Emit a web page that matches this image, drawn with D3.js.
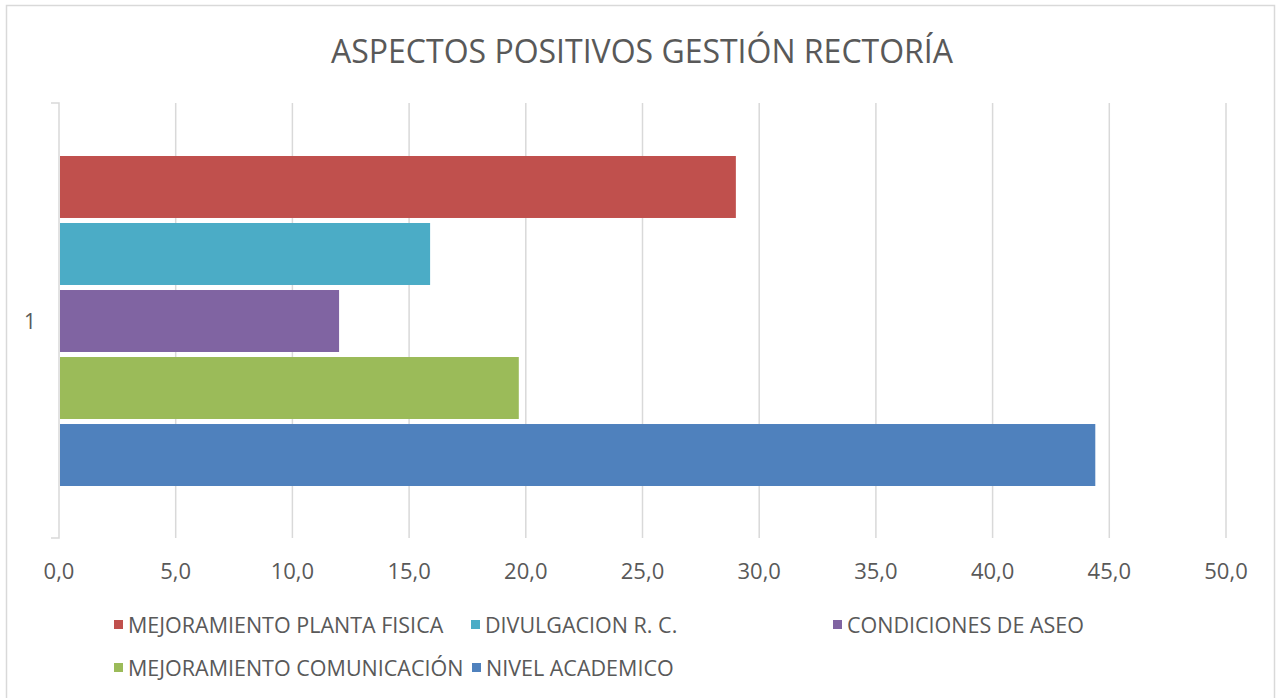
<!DOCTYPE html>
<html>
<head>
<meta charset="utf-8">
<script src="https://cdn.jsdelivr.net/npm/d3@7"></script>
<style>
  body { margin: 0; background: #fff; }
  text { font-family: "Open Sans", "Noto Sans", sans-serif; fill: #595959; }
</style>
</head>
<body>
<div id="chart"></div>
<script>
const WIDTH = 1276
const HEIGHT = 698

// series drawn top to bottom
const series = ["MEJORAMIENTO PLANTA FISICA", "DIVULGACION R. C.", "CONDICIONES DE ASEO", "MEJORAMIENTO COMUNICACIÓN", "NIVEL ACADEMICO"]
const values = [29.0, 15.9, 12.0, 19.7, 44.4]
const colors = ["#C0504D", "#4BACC6", "#8064A2", "#9BBB59", "#4F81BD"]
const categories = ["1"]
const xTicks = [0, 5, 10, 15, 20, 25, 30, 35, 40, 45, 50]

const margin = { left: 59, right: 50, top: 103, bottom: 160 }

const svg = d3.select("#chart")
  .append("svg")
  .attr("width", WIDTH)
  .attr("height", HEIGHT)

// outer chart border
svg.append("rect")
  .attr("x", 6.5).attr("y", 5.5)
  .attr("width", 1268).attr("height", 700)
  .attr("fill", "none")
  .attr("stroke", "#d9d9d9")
  .attr("stroke-width", 1.5)

svg.append("text")
  .attr("x", 642).attr("y", 63)
  .attr("text-anchor", "middle")
  .style("font-size", "32px")
  .text("ASPECTOS POSITIVOS GESTIÓN RECTORÍA")

const x = d3.scaleLinear()
  .domain([0, 50])
  .range([margin.left, WIDTH - margin.right])

const y = d3.scaleBand()
  .domain(categories)
  .range([margin.top, HEIGHT - margin.bottom])

// bars inside the single category band
const inner = d3.scaleBand()
  .domain(series)
  .range([y("1") + 53, y("1") + y.bandwidth() - 52])
  .paddingInner(0.075)

// gridlines
svg.append("g")
  .selectAll("line")
  .data(xTicks.slice(1))
  .enter().append("line")
  .attr("x1", d => x(d)).attr("x2", d => x(d))
  .attr("y1", margin.top).attr("y2", HEIGHT - margin.bottom)
  .attr("stroke", "#d9d9d9")
  .attr("stroke-width", 1.5)

// vertical axis line with small end ticks
svg.append("path")
  .attr("d", `M${x(0) - 8},${margin.top} H${x(0)} V${HEIGHT - margin.bottom} H${x(0) - 8}`)
  .attr("stroke", "#d9d9d9")
  .attr("stroke-width", 1.5)
  .attr("fill", "none")

svg.append("g")
  .selectAll("rect")
  .data(values)
  .enter().append("rect")
  .attr("x", x(0) + 1)
  .attr("y", (d, i) => inner(series[i]))
  .attr("width", d => x(d) - x(0) - 1)
  .attr("height", inner.bandwidth())
  .attr("fill", (d, i) => colors[i])

// category label
svg.append("text")
  .attr("x", 30).attr("y", y("1") + y.bandwidth() / 2 + 8)
  .attr("text-anchor", "middle")
  .style("font-size", "21px")
  .text(categories[0])

// x tick labels
svg.append("g")
  .selectAll("text")
  .data(xTicks)
  .enter().append("text")
  .attr("x", d => x(d))
  .attr("y", 579)
  .attr("text-anchor", "middle")
  .style("font-size", "22px")
  .text(d => d.toFixed(1).replace(".", ","))

// legend
const legendPos = [
  [114, 633], [471, 633], [833, 633],
  [114, 676], [472, 676]
]
const legend = svg.append("g")
  .selectAll("g")
  .data(series)
  .enter().append("g")
  .attr("transform", (d, i) => `translate(${legendPos[i][0]},${legendPos[i][1]})`)

legend.append("rect")
  .attr("x", 0).attr("y", -13)
  .attr("width", 9).attr("height", 9)
  .attr("fill", (d, i) => colors[i])

legend.append("text")
  .attr("x", 14).attr("y", 0)
  .style("font-size", "21.5px")
  .text(d => d)
</script>
</body>
</html>
